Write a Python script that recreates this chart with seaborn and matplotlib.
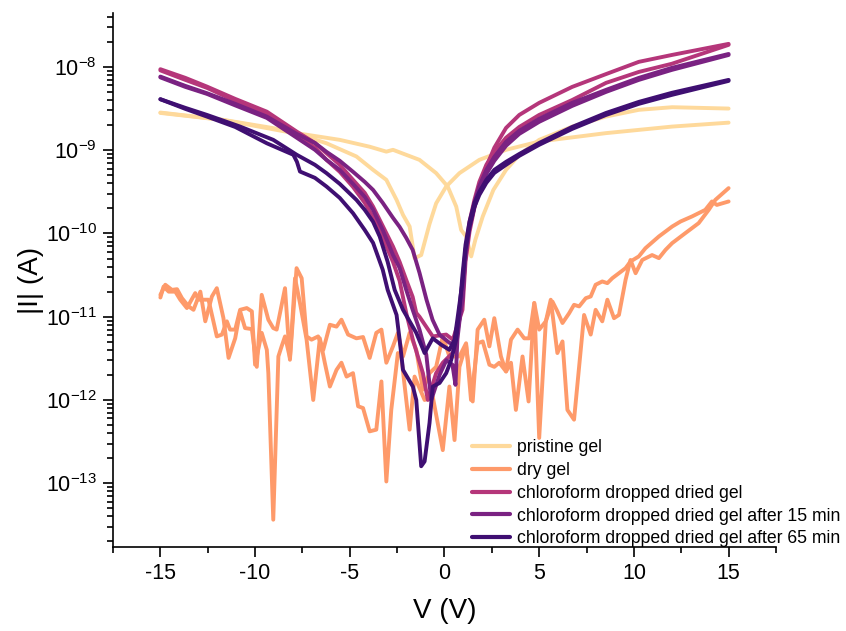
import matplotlib
matplotlib.use("Agg")
import matplotlib.pyplot as plt
from matplotlib.ticker import MultipleLocator, LogLocator, NullFormatter
import pandas as pd
import seaborn as sns

# ---- I-V sweeps (two sweep branches per sample), V in volts, |I| in amperes ----
pristine_a_v = [-15, -11.67, -9.04, -7.81, -5.53, -3.95, -3.07, -2.72, -1.32, -0.44, 0.17, 0.62,
                0.88, 1.14, 1.41, 1.63, 2.02, 2.58, 3.25, 3.95, 5.0, 6.75, 8.51, 10.26, 12.02, 15]
pristine_a_i = [2.83e-9, 2.31e-9, 1.84e-9, 1.6e-9, 1.33e-9, 1.1e-9, 9.6e-10, 1.01e-9, 7.65e-10,
                5.3e-10, 3.66e-10, 2.1e-10, 1.1e-10, 9.2e-11, 5.3e-11, 8.4e-11, 1.6e-10, 3.33e-10,
                5.8e-10, 8.8e-10, 1.33e-9, 1.92e-9, 2.53e-9, 3.05e-9, 3.28e-9, 3.16e-9]
pristine_b_v = [-15, -11.67, -7.81, -6.23, -4.65, -3.77, -3.07, -2.53, -2.19, -1.84, -1.58, -1.23,
                -0.79, -0.44, 0.09, 0.79, 1.84, 3.25, 5.0, 8.51, 12.02, 15]
pristine_b_i = [2.8e-9, 2.3e-9, 1.58e-9, 1.21e-9, 8.4e-10, 5.8e-10, 4.4e-10, 2.53e-10, 1.67e-10,
                1.21e-10, 5.05e-11, 5.5e-11, 1.3e-10, 2.3e-10, 3.66e-10, 5.3e-10, 7.65e-10, 1.01e-9,
                1.27e-9, 1.6e-9, 1.92e-9, 2.14e-9]

dry_a_v = [-15.0, -14.74, -14.39, -14.12, -13.86, -13.51, -13.25, -12.89, -12.63, -12.28, -12.02,
           -11.67, -11.4, -11.05, -10.79, -10.53, -10.17, -9.91, -9.65, -9.3, -9.04, -8.86, -8.42,
           -8.16, -7.81, -7.54, -7.28, -7.02, -6.67, -6.4, -6.05, -5.7, -5.44, -5.09, -4.65, -4.3,
           -3.95, -3.6, -3.33, -3.07, -2.72, -2.46, -2.19, -1.84, -1.49, -1.14, -0.79, -0.44, -0.09,
           0.26, 0.79, 1.14, 1.4, 1.75, 2.02, 2.37, 2.63, 2.89, 3.25, 3.51, 3.77, 4.12, 4.44, 4.74,
           5.0, 5.35, 5.7, 5.96, 6.23, 6.58, 6.84, 7.11, 7.46, 7.72, 7.98, 8.33, 8.6, 8.86, 9.21,
           9.56, 9.82, 10.26, 10.61, 11.32, 12.02, 12.46, 13.07, 13.77, 14.12, 14.38, 15.0]
dry_a_i = [1.83e-11, 2.42e-11, 2.1e-11, 2.14e-11, 1.67e-11, 1.33e-11, 1.21e-11, 2.0e-11, 8.8e-12,
           1.75e-11, 2.2e-11, 9.6e-12, 3.2e-12, 5.5e-12, 1.16e-11, 7.3e-12, 7.1e-12, 2.5e-12,
           1.83e-11, 9.2e-12, 7.3e-12, 7.0e-12, 2.2e-11, 3.04e-12, 3.83e-11, 2.9e-11, 5.8e-12,
           5.3e-12, 5.8e-12, 4.0e-12, 8.0e-12, 7.6e-12, 9.2e-12, 6.1e-12, 5.5e-12, 5.7e-12, 3.2e-12,
           6.4e-12, 7.0e-12, 2.8e-12, 4.4e-12, 6.4e-12, 3.33e-12, 6.4e-12, 4.0e-12, 1.33e-12,
           2.1e-12, 2.5e-12, 5.8e-12, 3.33e-12, 3.33e-12, 4.8e-12, 1.0e-12, 4.8e-12, 5.05e-12,
           2.65e-12, 2.5e-12, 2.8e-12, 2.2e-12, 2.8e-12, 7.6e-13, 3.33e-12, 9.6e-13, 1.46e-11,
           7.0e-12, 8.8e-12, 1.52e-11, 1.16e-11, 8.4e-12, 1.1e-11, 1.39e-11, 1.33e-11, 1.67e-11,
           1.75e-11, 2.42e-11, 2.65e-11, 2.53e-11, 2.9e-11, 3.33e-11, 3.83e-11, 4.6e-11, 5.3e-11,
           6.65e-11, 9.2e-11, 1.21e-10, 1.39e-10, 1.6e-10, 1.92e-10, 2.42e-10, 2.2e-10, 2.42e-10]
dry_b_v = [-15.0, -14.83, -14.56, -14.21, -13.95, -13.6, -13.16, -12.98, -12.46, -12.02, -11.75,
           -11.49, -11.32, -11.05, -10.79, -10.44, -10.17, -10.0, -9.65, -9.38, -9.3, -9.04, -8.77,
           -8.6, -8.42, -8.16, -7.89, -7.63, -7.28, -6.93, -6.58, -6.32, -6.05, -5.7, -5.44, -5.17,
           -4.83, -4.56, -4.3, -3.95, -3.6, -3.33, -3.07, -2.81, -2.46, -2.28, -1.84, -1.58, -1.05,
           -0.62, -0.09, 0.26, 0.53, 0.79, 1.14, 1.49, 1.75, 2.1, 2.37, 2.63, 2.98, 3.25, 3.51,
           3.86, 4.21, 4.47, 4.74, 5.0, 5.35, 5.61, 5.96, 6.23, 6.49, 6.84, 7.37, 7.72, 7.98, 8.33,
           8.6, 8.95, 9.21, 9.56, 9.82, 10.09, 10.44, 10.96, 11.32, 11.67, 12.02, 12.72, 13.42,
           13.95, 14.3, 15.0]
dry_b_i = [1.7e-11, 2.3e-11, 2.0e-11, 2.0e-11, 1.6e-11, 1.27e-11, 1.92e-11, 1.6e-11, 1.6e-11,
           5.8e-12, 6.1e-12, 8.8e-12, 7.0e-12, 7.0e-12, 1.21e-11, 1.27e-11, 1.16e-11, 2.65e-12,
           6.4e-12, 4.0e-12, 2.1e-12, 3.65e-14, 3.33e-12, 4.4e-12, 5.8e-12, 3.2e-12, 2.9e-11,
           1.46e-11, 5.3e-12, 1.0e-12, 5.5e-12, 2.8e-12, 1.45e-12, 2.3e-12, 2.8e-12, 1.91e-12,
           2.1e-12, 8.4e-13, 8.0e-13, 4.2e-13, 4.4e-13, 1.67e-12, 1.05e-13, 7.6e-13, 3.66e-12,
           3.33e-12, 4.4e-13, 1.91e-12, 1.0e-12, 1.1e-12, 2.5e-13, 1.45e-12, 3.3e-13, 2.5e-12,
           4.6e-12, 9.6e-13, 7.0e-12, 9.2e-12, 4.4e-12, 9.6e-12, 3.33e-12, 2.2e-12, 5.3e-12,
           7.0e-12, 5.5e-12, 5.5e-12, 1.46e-11, 3.5e-13, 8.8e-12, 1.6e-11, 3.66e-12, 5.05e-12,
           7.6e-13, 5.8e-13, 1.05e-11, 6.1e-12, 1.21e-11, 8.8e-12, 1.6e-11, 9.6e-12, 1.05e-11,
           2.77e-11, 4.8e-11, 3.33e-11, 4.8e-11, 5.5e-11, 5.05e-11, 6.35e-11, 7.65e-11, 1.01e-10,
           1.33e-10, 1.92e-10, 2.53e-10, 3.5e-10]

chcl3_a_v = [-15, -13.68, -12.54, -11.05, -9.38, -7.8, -6.84, -6.23, -5.53, -4.83, -4.21, -3.77,
             -3.26, -2.72, -2.37, -2.02, -1.68, -1.49, -1.32, -0.62, 0.09, 0.44, 0.95, 1.11, 1.32,
             1.58, 1.84, 2.21, 2.63, 3.25, 3.95, 5.0, 6.74, 8.53, 10.26, 12.0, 15]
chcl3_a_i = [9.38e-9, 7.38e-9, 5.8e-9, 4.13e-9, 2.9e-9, 1.67e-9, 1.22e-9, 9.2e-10, 6.67e-10,
             4.4e-10, 3.07e-10, 2.1e-10, 1.23e-10, 6.97e-11, 4.56e-11, 2.77e-11, 1.73e-11,
             1.11e-11, 1.0e-11, 5.8e-12, 6.1e-12, 5.3e-12, 1.21e-11, 4.56e-11, 1.04e-10, 2.03e-10,
             3.52e-10, 6.3e-10, 1.07e-9, 1.85e-9, 2.65e-9, 3.7e-9, 5.75e-9, 8.2e-9, 1.15e-8,
             1.39e-8, 1.89e-8]
chcl3_b_v = [-15, -13.68, -12.54, -11.05, -9.38, -7.8, -6.84, -6.23, -5.53, -4.83, -4.21, -3.77,
             -3.26, -2.72, -2.37, -2.02, -1.67, -1.14, -0.88, -0.44, -0.09, 0.44, 0.68, 0.95, 1.11,
             1.32, 1.58, 1.84, 2.21, 2.63, 3.25, 3.95, 5.0, 6.74, 8.53, 10.26, 12.0, 15]
chcl3_b_i = [9.08e-9, 6.98e-9, 5.6e-9, 3.91e-9, 2.73e-9, 1.53e-9, 1.07e-9, 7.65e-10, 5.5e-10,
             3.62e-10, 2.33e-10, 1.58e-10, 8.85e-11, 4.56e-11, 2.7e-11, 1.11e-11, 5.3e-12, 2.1e-12,
             1.0e-12, 2.1e-12, 2.8e-12, 3.7e-12, 7.0e-12, 1.99e-11, 6.35e-11, 1.38e-10, 2.53e-10,
             4.16e-10, 6.67e-10, 9.55e-10, 1.41e-9, 1.9e-9, 2.65e-9, 4.0e-9, 6.43e-9, 8.7e-9,
             1.09e-8, 1.84e-8]

min15_a_v = [-15, -13.68, -12.54, -11.05, -9.38, -7.8, -6.84, -6.23, -5.53, -4.83, -4.21, -3.77,
             -3.26, -2.72, -2.37, -2.02, -1.68, -1.32, -0.95, -0.63, -0.26, 0.26, 0.58, 0.95, 1.11,
             1.32, 1.58, 1.84, 2.21, 2.63, 3.25, 3.95, 5.0, 6.74, 8.53, 10.26, 12.0, 15]
min15_a_i = [7.65e-9, 5.91e-9, 4.83e-9, 3.6e-9, 2.53e-9, 1.57e-9, 1.22e-9, 9.55e-10, 7.45e-10,
             5.5e-10, 4.16e-10, 3.33e-10, 2.33e-10, 1.54e-10, 1.2e-10, 8.85e-11, 6.35e-11, 3.37e-11,
             1.6e-11, 9.18e-12, 6.07e-12, 4.86e-12, 4.6e-12, 1.6e-11, 5.53e-11, 1.27e-10, 2.33e-10,
             3.72e-10, 5.8e-10, 8.3e-10, 1.26e-9, 1.71e-9, 2.38e-9, 3.7e-9, 5.3e-9, 7.38e-9,
             9.73e-9, 1.43e-8]
min15_b_v = [-15, -13.68, -12.54, -11.05, -9.38, -7.8, -6.84, -6.23, -5.53, -4.83, -4.21, -3.77,
             -3.26, -2.72, -2.37, -2.02, -1.68, -1.32, -0.96, -0.7, -0.26, 0.1, 0.42, 0.58, 0.68,
             0.95, 1.11, 1.32, 1.58, 1.84, 2.21, 2.63, 3.25, 3.95, 5.0, 6.74, 8.53, 10.26, 12.0, 15]
min15_b_i = [7.48e-9, 5.75e-9, 4.74e-9, 3.45e-9, 2.44e-9, 1.41e-9, 1.01e-9, 7.65e-10, 5.8e-10,
             3.94e-10, 2.75e-10, 1.92e-10, 1.1e-10, 5.53e-11, 3.86e-11, 2.1e-11, 1.21e-11, 7.0e-12,
             3.5e-12, 1.0e-12, 2.0e-12, 3.0e-12, 2.65e-12, 1.52e-12, 5.3e-12, 1.83e-11, 5.53e-11,
             1.17e-10, 2.08e-10, 3.33e-10, 5.19e-10, 7.45e-10, 1.13e-9, 1.57e-9, 2.19e-9, 3.4e-9,
             5.01e-9, 6.98e-9, 9.2e-9, 1.39e-8]

min65_a_v = [-15, -13.68, -12.54, -11.05, -9.38, -7.98, -7.79, -7.63, -6.84, -6.23, -5.53, -4.83,
             -4.21, -3.77, -3.26, -3.0, -2.53, -2.37, -2.19, -1.67, -1.49, -1.23, -1.05, -0.79,
             -0.62, -0.26, 0.09, 0.35, 0.62, 0.79, 0.95, 1.11, 1.32, 1.58, 1.84, 2.21, 2.63, 3.25,
             3.95, 5.0, 6.74, 8.53, 10.26, 12.0, 15]
min65_a_i = [4.09e-9, 3.13e-9, 2.53e-9, 1.9e-9, 1.21e-9, 8.8e-10, 7.24e-10, 5.54e-10, 4.65e-10,
             3.66e-10, 2.67e-10, 1.75e-10, 1.1e-10, 7.7e-11, 3.66e-11, 2.1e-11, 1.05e-11, 5.3e-12,
             2.3e-12, 1.45e-12, 1.0e-12, 1.6e-13, 1.83e-13, 5.3e-13, 1.45e-12, 1.6e-12, 2.1e-12,
             3.0e-12, 5.3e-12, 1.21e-11, 3.18e-11, 7.3e-11, 1.38e-10, 2.33e-10, 3.16e-10, 4.4e-10,
             5.8e-10, 7.24e-10, 9.0e-10, 1.22e-9, 1.9e-9, 2.8e-9, 3.8e-9, 4.88e-9, 6.98e-9]
min65_b_v = [-15, -13.68, -12.54, -10.79, -9.04, -7.8, -6.84, -6.23, -5.53, -4.65, -4.21, -3.77,
             -3.42, -3.0, -2.63, -2.19, -1.49, -1.05, -0.62, -0.17, 0.26, 0.53, 0.7, 0.95, 1.11,
             1.32, 1.58, 1.84, 2.21, 2.63, 3.25, 3.95, 5.0, 6.74, 8.53, 10.26, 12.0, 15]
min65_b_i = [4.09e-9, 3.22e-9, 2.65e-9, 1.92e-9, 1.33e-9, 8.8e-10, 6.67e-10, 5.3e-10, 3.94e-10,
             2.53e-10, 1.92e-10, 1.38e-10, 9.18e-11, 4.56e-11, 2.1e-11, 1.21e-11, 6.4e-12, 3.66e-12,
             5.5e-12, 4.6e-12, 4.0e-12, 5.3e-12, 1.0e-11, 2.62e-11, 6.35e-11, 1.2e-10, 2.08e-10,
             2.9e-10, 4.05e-10, 5.33e-10, 6.67e-10, 8.55e-10, 1.16e-9, 1.8e-9, 2.65e-9, 3.6e-9,
             4.61e-9, 6.79e-9]

samples = ["pristine gel", "dry gel", "chloroform dropped dried gel",
           "chloroform dropped dried gel after 15 min",
           "chloroform dropped dried gel after 65 min"]
colors = ["#fed99b", "#fe9a6a", "#b5367a", "#7a2282", "#3f0f72"]

sweeps = {
    samples[0]: [(pristine_a_v, pristine_a_i), (pristine_b_v, pristine_b_i)],
    samples[1]: [(dry_a_v, dry_a_i), (dry_b_v, dry_b_i)],
    samples[2]: [(chcl3_a_v, chcl3_a_i), (chcl3_b_v, chcl3_b_i)],
    samples[3]: [(min15_a_v, min15_a_i), (min15_b_v, min15_b_i)],
    samples[4]: [(min65_a_v, min65_a_i), (min65_b_v, min65_b_i)],
}

frames = []
for name, branches in sweeps.items():
    for k, (v, i) in enumerate(branches):
        frames.append(pd.DataFrame({"V": v, "I": i, "sample": name, "sweep": k}))
df = pd.concat(frames, ignore_index=True)

# ---- style ----
sns.set_style("ticks")
plt.rcParams["font.family"] = ["Liberation Sans", "DejaVu Sans"]
plt.rcParams["mathtext.fontset"] = "custom"
plt.rcParams["mathtext.rm"] = "Liberation Sans"
plt.rcParams["mathtext.it"] = "Liberation Sans:italic"
plt.rcParams["mathtext.bf"] = "Liberation Sans:bold"
plt.rcParams["axes.unicode_minus"] = False
plt.rcParams["text.color"] = "black"
plt.rcParams["axes.labelcolor"] = "black"

fig = plt.figure(figsize=(8.46, 6.31), dpi=100)
ax = fig.add_axes([0.1336, 0.1326, 0.7836, 0.8463])

sns.lineplot(data=df, x="V", y="I", hue="sample", hue_order=samples, units="sweep",
             estimator=None, sort=False, palette=colors, linewidth=2.8, ax=ax)

ax.set_yscale("log")
ax.set_xlim(-17.5, 17.5)
ax.set_ylim(1.7e-14, 4.4e-8)

ax.xaxis.set_major_locator(MultipleLocator(5))
ax.xaxis.set_minor_locator(MultipleLocator(2.5))
ax.yaxis.set_major_locator(LogLocator(base=10, numticks=20))
ax.yaxis.set_minor_locator(LogLocator(base=10, subs=range(2, 10), numticks=20))
ax.yaxis.set_minor_formatter(NullFormatter())

sns.despine(ax=ax)
for side in ("left", "bottom"):
    ax.spines[side].set_linewidth(1.2)
    ax.spines[side].set_color("black")
ax.tick_params(which="major", direction="out", length=7.5, width=1.2, labelsize=15.5,
               colors="black", pad=4)
ax.tick_params(which="minor", direction="out", length=4, width=1.2, colors="black")

ax.set_xlabel("V (V)", fontsize=20, labelpad=10, color="black")
ax.set_ylabel("|I| (A)", fontsize=20, labelpad=1, color="black")

handles, labels = ax.get_legend_handles_labels()
ax.get_legend().remove()
leg = ax.legend(handles, labels, loc="lower left", bbox_to_anchor=(0.541, 0.0),
                frameon=False, fontsize=12.7, handlelength=2.2, handletextpad=0.35,
                labelspacing=0.33, borderpad=0, borderaxespad=0, labelcolor="black")
for h in leg.get_lines():
    h.set_linewidth(3.0)

fig.savefig("out.png", dpi=100)
